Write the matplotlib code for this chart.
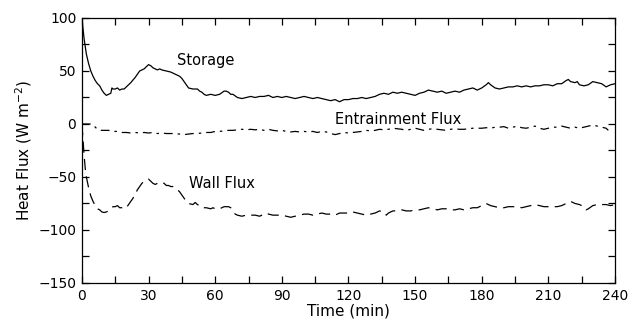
import matplotlib
matplotlib.use("Agg")
import matplotlib.pyplot as plt
from matplotlib.ticker import MultipleLocator

storage_t = [0,1,2,3,4,5,6,7,8,9,10,11,12,13,13.5,14,15,16,17,18,19,20,22,24,26,27,28,29,30,31,32,33,34,35,36,38,40,42,44,45,46,47,48,50,52,53,54,55,56,58,60,62,64,65,66,67,68,70,72,74,76,78,80,82,84,86,88,90,92,94,96,98,100,102,104,106,108,110,112,114,116,118,120,122,124,126,128,130,132,134,136,138,140,142,144,146,148,150,152,154,156,158,160,162,164,166,168,170,172,174,176,178,180,182,183,184,186,188,190,192,194,196,198,200,202,204,206,208,210,212,214,216,218,219,220,222,223,224,226,228,230,232,234,236,238,240]
storage_v = [100,80,66,57,50,45,41,38,36,32,29,27,28,29,34,33,33,34,32,33,33,35,39,44,50,51,52,54,56,55,53,52,51,52,51,50,49,47,45,43,40,37,34,33,33,31,30,28,27,28,27,28,31,31,30,28,28,25,24,25,26,25,26,26,27,25,26,25,26,25,24,25,26,25,24,25,24,23,22,23,21,23,23,24,24,25,24,25,26,28,29,28,30,29,30,29,28,27,29,30,32,31,30,31,29,30,31,30,32,33,34,32,34,37,39,37,34,33,34,35,35,36,35,36,35,36,36,37,37,36,38,38,41,42,40,39,40,37,36,37,40,39,38,35,37,38]

entr_t = [0,2,4,5,6,7,8,10,12,14,16,18,20,22,24,26,28,30,32,34,36,38,40,42,44,46,48,50,52,54,56,58,60,62,64,66,68,70,72,74,76,78,80,82,84,86,88,90,92,94,96,98,100,102,104,106,108,110,112,114,116,118,120,122,124,126,128,130,132,134,136,138,140,142,144,146,148,150,152,154,156,158,160,162,164,166,168,170,172,174,176,178,180,182,184,186,188,190,192,194,196,198,200,202,204,206,208,210,212,214,216,218,220,222,224,226,228,230,232,234,236,237]
entr_v = [0,0,0,-0.5,-3,-5,-6,-6,-6,-7,-7,-8,-8,-8.5,-8,-8.5,-8,-8.5,-8,-9,-8.5,-9,-9,-9,-9.5,-10,-9.5,-9,-9,-8.5,-8,-8,-7,-7,-6.5,-6,-6,-5.5,-5,-5.5,-5,-5.5,-5,-6,-5,-6,-6.5,-6,-7,-7.5,-7,-7.5,-7,-7.5,-7,-8,-7,-7.5,-9,-10,-9,-8,-8.5,-8,-7.5,-7,-6,-6.5,-6,-5,-5.5,-5,-4,-4.5,-5,-6,-5,-4,-5,-6,-5,-4.5,-5,-5.5,-6,-5,-4.5,-5,-5,-4.5,-4,-4,-4,-3.5,-4,-3,-3,-2.5,-4,-3,-2,-3.5,-4,-3,-2,-4,-5,-4,-3,-3,-2,-3,-4,-3,-4,-3,-2,-1,-2,-3,-4,-6]

wall_t = [0,0.5,1,1.5,2,3,4,5,6,7,8,9,10,11,12,13,14,15,16,17,18,19,20,21,22,23,24,25,26,27,28,29,30,31,32,33,34,35,36,37,38,39,40,41,42,43,44,45,46,47,48,50,51,52,53,54,56,58,59,60,62,64,66,67,68,69,70,72,74,76,78,80,82,83,84,86,88,90,92,94,96,98,100,102,104,106,108,110,112,114,116,118,120,122,124,126,128,130,132,134,136,137,138,140,142,144,146,148,150,152,154,156,158,160,162,164,166,168,170,172,174,176,178,180,182,184,186,188,190,192,194,196,198,200,202,204,206,208,210,212,214,216,218,220,222,224,226,227,228,230,232,234,236,238,240]
wall_v = [0,-15,-30,-42,-50,-60,-68,-73,-77,-80,-81,-83,-83.5,-83,-82,-80,-78,-78,-77,-79,-79,-78,-79,-76,-73,-70,-66,-62,-59,-56,-54,-53,-52,-54,-56,-57,-56,-56,-55,-56,-58,-58,-59,-59,-60,-62,-64,-67,-70,-73,-75,-76,-74,-76,-77,-79,-79,-80,-79,-80,-80,-78,-78,-79,-82,-85,-86,-87,-86,-86,-86,-87,-85,-84,-85,-86,-86,-86,-87,-88,-87,-86,-85,-85,-86,-85,-84,-85,-85,-86,-84,-84,-84,-83,-84,-85,-86,-85,-84,-82,-83,-86,-84,-82,-82,-81,-82,-82,-81,-81,-80,-79,-80,-81,-80,-80,-81,-81,-80,-81,-80,-79,-79,-77,-75,-77,-78,-79,-79,-78,-78,-78,-79,-78,-77,-76,-77,-78,-78,-78,-78,-77,-75,-73,-75,-76,-78,-81,-80,-77,-76,-76,-76,-77,-76]

x_ticks = [0, 30, 60, 90, 120, 150, 180, 210, 240]
y_ticks = [-150, -100, -50, 0, 50, 100]

plt.rcParams['font.family'] = ['DejaVu Sans']
fig = plt.figure(figsize=(6.35, 3.32), dpi=100)
ax = fig.add_axes([0.129, 0.1476, 0.8395, 0.7982])

ax.plot(storage_t, storage_v, color='black', lw=0.9)
ax.plot(entr_t, entr_v, color='black', lw=0.9, linestyle=(0, (7, 4, 2, 4)))
ax.plot(wall_t, wall_v, color='black', lw=0.9, linestyle=(0, (9, 5)))

ax.set_xlim(0, 240)
ax.set_ylim(-150, 100)
ax.set_xticks(x_ticks)
ax.set_yticks(y_ticks)
ax.xaxis.set_minor_locator(MultipleLocator(15))
ax.yaxis.set_minor_locator(MultipleLocator(25))
ax.tick_params(which='both', direction='in', top=True, right=True, labelsize=10, length=5, width=0.9, pad=4)
for s in ax.spines.values():
    s.set_linewidth(0.9)

ax.set_xlabel('Time (min)', fontsize=11, labelpad=1)
ax.set_ylabel('Heat Flux (W m$^{-2}$)', fontsize=11, labelpad=3)

ax.text(43, 60, 'Storage', fontsize=10.5, va='center', ha='left')
ax.text(114, 4, 'Entrainment Flux', fontsize=10.5, va='center', ha='left')
ax.text(48, -56, 'Wall Flux', fontsize=10.5, va='center', ha='left')

fig.savefig('out.png', dpi=100)
